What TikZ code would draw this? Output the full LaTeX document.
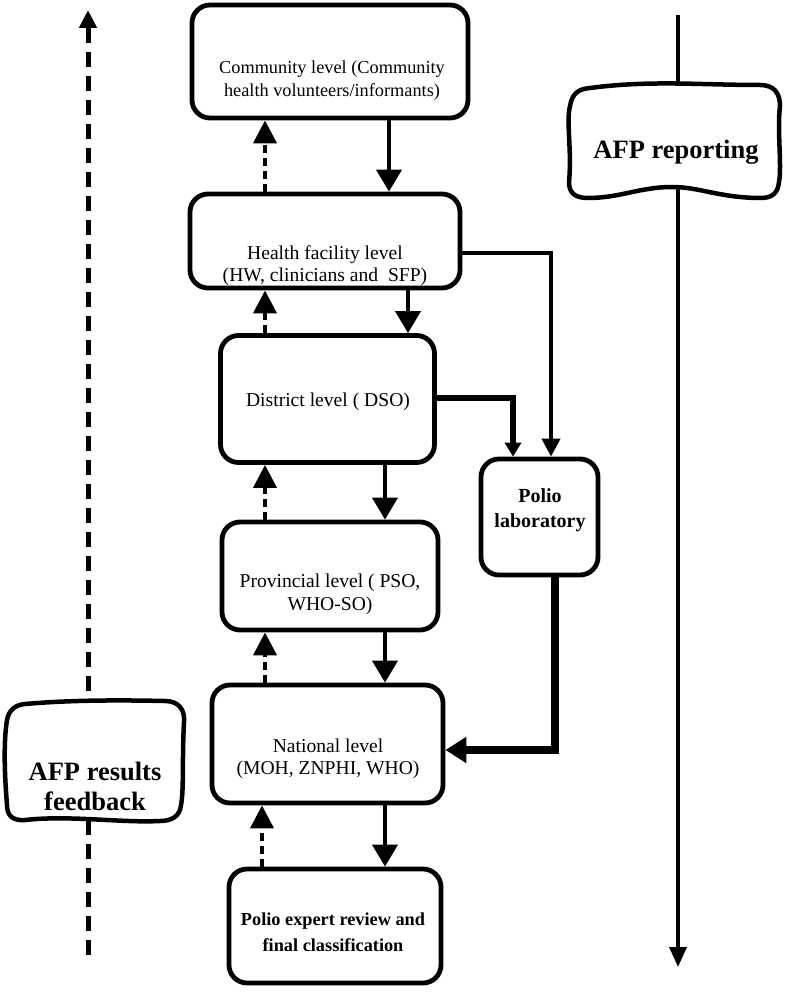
\documentclass[tikz,border=0pt]{standalone}
\usepackage{fontspec}
\setmainfont{Liberation Serif}
\usetikzlibrary{arrows.meta}
\begin{document}
\begin{tikzpicture}[x=1pt,y=-1pt,
  box/.style={draw, line width=4.8pt, rounded corners=18pt, inner sep=0pt, fill=white},
  txt/.style={align=center, font=\fontsize{19.6}{22.5}\selectfont, inner sep=0pt},
  btxt/.style={align=center, font=\bfseries\fontsize{20}{25}\selectfont, inner sep=0pt},
  bigtxt/.style={align=center, font=\bfseries\fontsize{26.5}{30}\selectfont, inner sep=0pt},
  flow/.style={line width=4pt, -{Triangle[width=25pt,length=22pt]}},
  back/.style={line width=4pt, dash pattern=on 8pt off 5pt, -{Triangle[width=23pt,length=23pt]}},
  labthin/.style={line width=4pt, -{Triangle[width=18pt,length=18pt]}},
  labmid/.style={line width=6.5pt, -{Triangle[width=16pt,length=14pt]}},
  labthick/.style={line width=8.5pt, -{Triangle[width=25pt,length=21pt]}},
  wavy/.style={line width=4.5pt, fill=white, line join=round}
]
\useasboundingbox (0,0) rectangle (791,1000);

% long side lines
\coordinate (fbBot) at (88,955);
\coordinate (fbTop) at (88,10);
\draw[line width=5pt, dash pattern=on 15pt off 9pt, -{Triangle[width=17pt,length=18pt]}] (fbBot) -- (fbTop);
\coordinate (repTop) at (678,15);
\coordinate (repBot) at (678,967);
\draw[line width=3.5pt, -{Triangle[width=17pt,length=20pt]}] (repTop) -- (repBot);

% wavy boxes
\draw[wavy] (590,88) .. controls (650,80) and (700,85) .. (760,85)
  .. controls (774,85) and (780,93) .. (780,106)
  .. controls (777,130) and (782,165) .. (779,182)
  .. controls (778,193) and (772,198) .. (761,198)
  .. controls (720,198) and (700,187) .. (672,187)
  .. controls (640,187) and (620,198) .. (588,198)
  .. controls (575,198) and (569,193) .. (569,182)
  .. controls (572,150) and (566,122) .. (570,106)
  .. controls (572,94) and (578,89) .. (590,88) -- cycle;
\node[bigtxt] (rep) at (676,152) {AFP reporting};

\draw[wavy] (25,704) .. controls (70,700) and (120,700) .. (165,701)
  .. controls (179,701) and (185,710) .. (184,722)
  .. controls (182,760) and (184,790) .. (181,805)
  .. controls (180,816) and (172,821) .. (160,821)
  .. controls (120,823) and (70,815) .. (25,820)
  .. controls (12,821) and (7,815) .. (7,805)
  .. controls (5,780) and (3,745) .. (7,720)
  .. controls (9,710) and (15,705) .. (25,704) -- cycle;
\node[bigtxt] (fb) at (95,786) {AFP results\\feedback};

% boxes
\node[box, minimum width=276pt, minimum height=113pt] (comm) at (330,61.5) {};
\node[txt, font=\fontsize{18.3}{22.5}\selectfont] (commT) at (332,80.5) {Community level (Community\\health volunteers/informants)};
\node[box, minimum width=270pt, minimum height=94pt] (health) at (325,241) {};
\node[txt] (healthT) at (325,265.5) {Health facility level\\(HW, clinicians and~ SFP)};
\node[box, minimum width=214pt, minimum height=127pt] (district) at (327.5,399) {};
\node[txt] (distT) at (328,402) {District level ( DSO)};
\node[box, minimum width=117pt, minimum height=116pt] (lab) at (539.5,517) {};
\node[btxt] (labT) at (540,510) {Polio\\laboratory};
\node[box, minimum width=216pt, minimum height=108pt] (prov) at (330,576) {};
\node[txt] (provT) at (330,594.5) {Provincial level ( PSO,\\WHO-SO)};
\node[box, minimum width=231pt, minimum height=118pt] (nat) at (327.5,744) {};
\node[txt] (natT) at (328,759) {National level\\(MOH, ZNPHI, WHO)};
\node[box, minimum width=212pt, minimum height=114pt] (exp) at (335,926) {};
\node[btxt, font=\bfseries\fontsize{18.3}{26}\selectfont] (expT) at (333,932.5) {Polio expert review and\\final classification};

% vertical flow arrows
\coordinate (xa) at (389,0);
\coordinate (xb) at (408,0);
\coordinate (xc) at (385,0);
\coordinate (xd) at (385,0);
\coordinate (xe) at (385,0);
\draw[flow] (comm.south -| xa) -- (health.north -| xa);
\draw[flow] (health.south -| xb) -- (district.north -| xb);
\draw[flow] (district.south -| xc) -- (prov.north -| xc);
\draw[flow] (prov.south -| xd) -- (nat.north -| xd);
\draw[flow] (nat.south -| xe) -- (exp.north -| xe);

% dashed feedback arrows
\coordinate (fa) at (265,0);
\coordinate (fb2) at (265,0);
\coordinate (fc) at (265,0);
\coordinate (fd) at (265,0);
\coordinate (fe) at (262,0);
\draw[back] (health.north -| fa) -- (comm.south -| fa);
\draw[back] (district.north -| fb2) -- (health.south -| fb2);
\draw[back] (prov.north -| fc) -- (district.south -| fc);
\draw[back] (nat.north -| fd) -- (prov.south -| fd);
\draw[back] (exp.north -| fe) -- (nat.south -| fe);

% laboratory connectors
\coordinate (yh) at (0,253);
\coordinate (xl1) at (551,0);
\draw[labthin] (health.east |- yh) -| (lab.north -| xl1);
\coordinate (yd) at (0,398);
\coordinate (xl2) at (513,0);
\draw[labmid] (district.east |- yd) -| (lab.north -| xl2);
\coordinate (yn) at (0,750);
\coordinate (xl3) at (555,0);
\draw[labthick] (lab.south -| xl3) |- (nat.east |- yn);
\end{tikzpicture}
\end{document}
